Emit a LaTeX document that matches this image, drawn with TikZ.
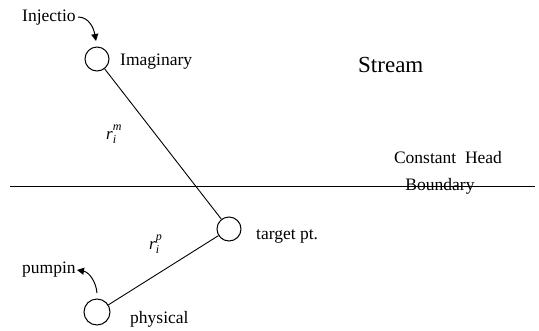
\documentclass[tikz,border=0pt]{standalone}
\usepackage{fontspec}
\setmainfont{Liberation Serif}
\usetikzlibrary{arrows.meta}
\newcommand{\rlab}[1]{\textit{r}\makebox[0pt][l]{\raisebox{9pt}{\fontsize{12}{12}\selectfont\textit{#1}}}\raisebox{-4pt}{\fontsize{12}{12}\selectfont\textit{i}}\hspace{5pt}}
\begin{document}
\begin{tikzpicture}[x=1pt,y=-1pt,
  well/.style={circle,draw,line width=1pt,minimum size=24pt,inner sep=0pt},
  lbl/.style={font=\fontsize{17.5}{20}\selectfont,inner sep=0pt,anchor=base west},
  rl/.style={font=\fontsize{17}{19}\selectfont,inner sep=0pt},
  conn/.style={line width=0.9pt},
  flow/.style={line width=1pt,-{Triangle[length=7pt,width=7pt]}}]
\useasboundingbox (0,0) rectangle (539,330);
\node[well] (imag) at (97,59) {};
\node[well] (target) at (229,229) {};
\node[well,minimum size=26pt] (phys) at (97,312) {};
\node[lbl] (timag) at (120,65) {Imaginary};
\node[lbl] (ttarget) at (256,239) {target pt.};
\node[lbl] (tphys) at (130,323) {physical};
\node[lbl] (tinj) at (22,21) {Injectio};
\node[lbl] (tpump) at (22,273) {pumpin};
\node[font=\fontsize{23}{26}\selectfont,inner sep=0pt,anchor=base west] (stream) at (358,72) {Stream};
\node[lbl,anchor=base] (chead) at (448,163) {Constant\ \ Head};
\node[lbl,anchor=base] (bnd) at (440,190) {Boundary};
\coordinate (bl) at (10,186);
\coordinate (br) at (535,186);
\draw[line width=0.8pt] (bl) -- (br);
\draw[conn] (imag) -- (target);
\draw[conn] (target) -- (phys);
\node[rl,anchor=base west] (rm) at (106,139) {\rlab{m}};
\node[rl,anchor=base west] (rp) at (149,249) {\rlab{p}};
\coordinate (inja) at (78,17);
\coordinate (injb) at (96,41);
\draw[flow] (inja) to[out=0,in=100] (injb);
\coordinate (pumpa) at (97,293);
\coordinate (pumpb) at (77,270);
\draw[flow] (pumpa) to[out=95,in=-10] (pumpb);
\end{tikzpicture}
\end{document}
